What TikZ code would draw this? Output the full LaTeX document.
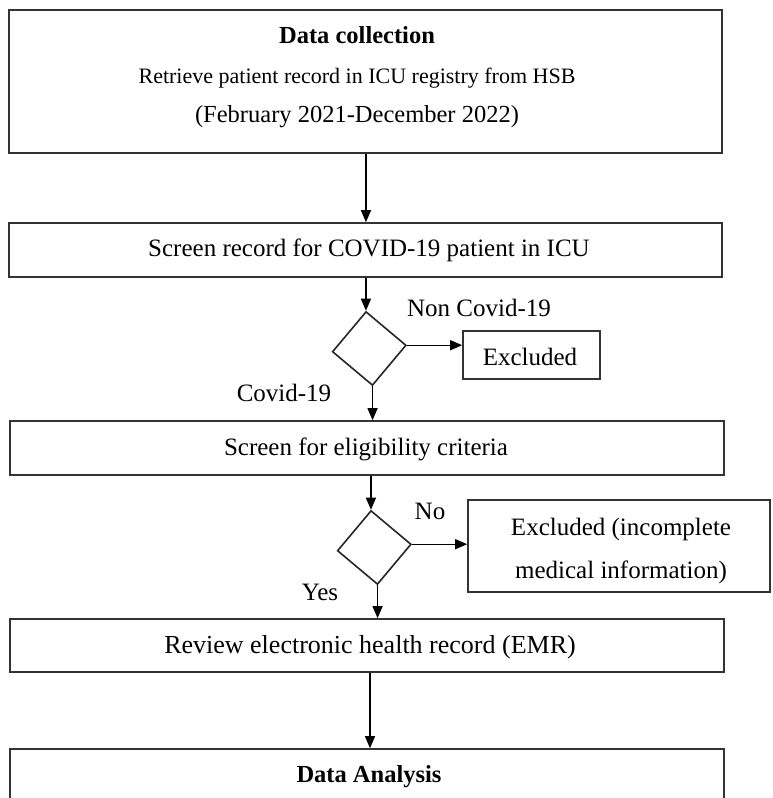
\documentclass[tikz,border=0pt]{standalone}
\usepackage{fontspec}
\setmainfont{Liberation Serif}
\usetikzlibrary{arrows.meta}
\begin{document}
\begin{tikzpicture}[x=1pt,y=-1pt,
  frame/.style={draw=black!80, line width=1.6pt, inner sep=0pt, rectangle},
  dec/.style={draw=black!85, line width=1.6pt, rectangle, inner sep=0pt, minimum width=52pt, minimum height=52pt, rotate=50},
  arr/.style={line width=1.3pt, -{Triangle[length=12pt,width=10pt]}},
  txt/.style={anchor=base, inner sep=0pt, font=\fontsize{25}{30}\selectfont},
  btxt/.style={anchor=base, inner sep=0pt, font=\fontsize{24.5}{29}\selectfont\bfseries},
]
\clip (0,0) rectangle (772,798);
\fill[white] (0,0) rectangle (772,798);
% boxes
\node[frame, minimum width=713pt, minimum height=143pt] (b1) at (365.5,81.5) {};
\node[frame, minimum width=713pt, minimum height=54pt] (b2) at (365.5,250) {};
\node[frame, minimum width=714pt, minimum height=54pt] (b3) at (367,448) {};
\node[frame, minimum width=714pt, minimum height=53pt] (b4) at (367,645.5) {};
\node[frame, minimum width=714pt, minimum height=82pt] (b5) at (367,790) {};
\node[frame, minimum width=137pt, minimum height=48pt] (ex1) at (531.5,355) {};
\node[frame, minimum width=302pt, minimum height=92pt] (ex2) at (619,546) {};
% decisions
\node[dec] (d1) at (369.25,348.5) {};
\node[dec] (d2) at (374.25,547.5) {};
% texts
\node[btxt] (t1a) at (357,43) {Data collection};
\node[txt, font=\fontsize{22}{26}\selectfont] (t1b) at (357,83) {Retrieve patient record in ICU registry from HSB};
\node[txt, font=\fontsize{24.5}{29}\selectfont] (t1c) at (357,122) {(February 2021-December 2022)};
\node[txt] (t2) at (369,256) {Screen record for COVID-19 patient in ICU};
\node[txt] (t3) at (366,455) {Screen for eligibility criteria};
\node[txt, font=\fontsize{26}{30}\selectfont] (t4) at (370,653) {Review electronic health record (EMR)};
\node[btxt] (t5) at (369,782) {Data Analysis};
\node[txt] (e1) at (530,365) {Excluded};
\node[txt] (e2a) at (621,535) {Excluded (incomplete};
\node[txt] (e2b) at (621,578) {medical information)};
\node[txt] (l1) at (479,316) {Non Covid-19};
\node[txt] (l2) at (284,401) {Covid-19};
\node[txt] (l3) at (430,519) {No};
\node[txt] (l4) at (320,600) {Yes};
% arrows
\draw[arr] (d1.north east |- b1.south) -- (d1.north east |- b2.north);
\draw[arr] (d1.north east |- b2.south) -- (d1.north east);
\draw[arr] (d1.south east) -- (d1.south east -| ex1.west);
\draw[arr] (d1.south west) -- (d1.south west |- b3.north);
\draw[arr] (d2.north east |- b3.south) -- (d2.north east);
\draw[arr] (d2.south east) -- (d2.south east -| ex2.west);
\draw[arr] (d2.south west) -- (d2.south west |- b4.north);
\coordinate (a4s) at ([xshift=3pt]b4.south);
\draw[arr] (a4s) -- (a4s |- b5.north);
\end{tikzpicture}
\end{document}
